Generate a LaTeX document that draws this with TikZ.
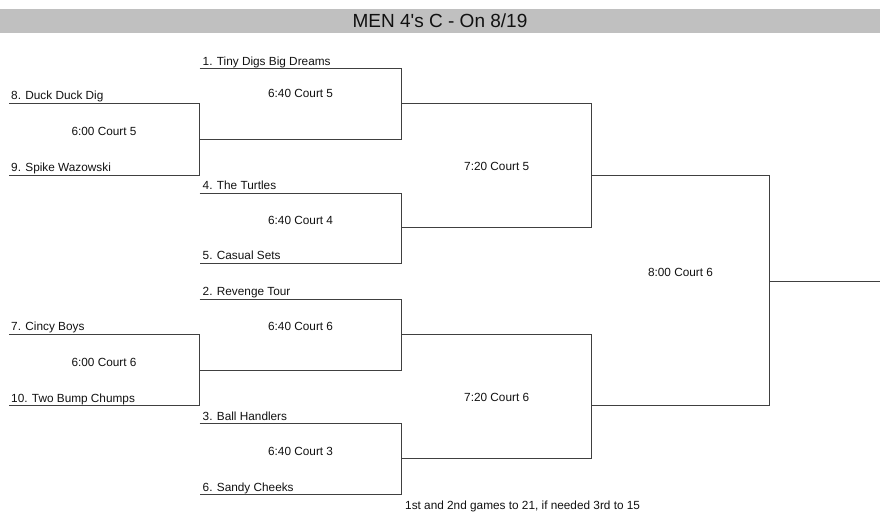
\documentclass[tikz,border=0pt]{standalone}
\usepackage{fontspec}
\setmainfont{Liberation Sans}
\definecolor{barfill}{HTML}{C0C0C0}
\definecolor{linecol}{HTML}{404040}
\definecolor{txtcol}{HTML}{111111}
\begin{document}
\begin{tikzpicture}[x=1bp,y=-1bp,
  bline/.style={draw=linecol,line width=1.2bp},
  team/.style={anchor=base west,inner sep=0pt,text=txtcol,font=\fontsize{11.8bp}{14bp}\selectfont},
  slot/.style={anchor=base,inner sep=0pt,text=txtcol,font=\fontsize{11.8bp}{14bp}\selectfont},
  titletxt/.style={anchor=base,inner sep=0pt,text=txtcol,font=\fontsize{19bp}{22bp}\selectfont}]
\useasboundingbox (0,0) rectangle (880,524);
% title bar
\fill[barfill] (0,9.3) rectangle (880,33.3);
\node[titletxt] (title) at (440,27.3) {MEN 4\textquotesingle s C - On 8/19};

% x positions
\def\xa{9}\def\xb{199.5}\def\xc{401.5}\def\xd{591.5}\def\xe{769.5}\def\xf{880}

% ---- coordinates ----
% round 1, top
\coordinate (duckL) at (\xa,103.5); \coordinate (duckR) at (\xb,103.5);
\coordinate (spikeL) at (\xa,175.5);  \coordinate (spikeR) at (\xb,175.5);
\coordinate (m1L) at (\xb,139.5);  \coordinate (m1R) at (\xc,139.5);
% round 1, bottom
\coordinate (cincyL) at (\xa,334.5); \coordinate (cincyR) at (\xb,334.5);
\coordinate (twoL) at (\xa,405.5);     \coordinate (twoR) at (\xb,405.5);
\coordinate (m2L) at (\xb,370.5);   \coordinate (m2R) at (\xc,370.5);
% round 2
\coordinate (tinyL) at (\xb,68.5);   \coordinate (tinyR) at (\xc,68.5);
\coordinate (q1L) at (\xc,103.5);   \coordinate (q1R) at (\xd,103.5);
\coordinate (turtL) at (\xb,193.5);    \coordinate (turtR) at (\xc,193.5);
\coordinate (casL) at (\xb,263.5);   \coordinate (casR) at (\xc,263.5);
\coordinate (q2L) at (\xc,227.5);   \coordinate (q2R) at (\xd,227.5);
\coordinate (revL) at (\xb,299.5);   \coordinate (revR) at (\xc,299.5);
\coordinate (q3L) at (\xc,334.5);   \coordinate (q3R) at (\xd,334.5);
\coordinate (ballL) at (\xb,423.5);  \coordinate (ballR) at (\xc,423.5);
\coordinate (sandL) at (\xb,494.5);  \coordinate (sandR) at (\xc,494.5);
\coordinate (q4L) at (\xc,458.5);   \coordinate (q4R) at (\xd,458.5);
% round 3
\coordinate (s1L) at (\xd,175.5);     \coordinate (s1R) at (\xe,175.5);
\coordinate (s2L) at (\xd,405.5);     \coordinate (s2R) at (\xe,405.5);
% final
\coordinate (fL) at (\xe,281.5);    \coordinate (fR) at (\xf,281.5);

% ---- lines ----
\draw[bline] (duckL) -- (duckR) -- (spikeR) -- (spikeL);
\draw[bline] (m1L) -- (m1R);
\draw[bline] (cincyL) -- (cincyR) -- (twoR) -- (twoL);
\draw[bline] (m2L) -- (m2R);
\draw[bline] (tinyL) -- (tinyR) -- (m1R);
\draw[bline] (q1L) -- (q1R);
\draw[bline] (turtL) -- (turtR) -- (casR) -- (casL);
\draw[bline] (q2L) -- (q2R);
\draw[bline] (revL) -- (revR) -- (m2R);
\draw[bline] (q3L) -- (q3R);
\draw[bline] (ballL) -- (ballR) -- (sandR) -- (sandL);
\draw[bline] (q4L) -- (q4R);
\draw[bline] (q1R) -- (q2R);
\draw[bline] (s1L) -- (s1R);
\draw[bline] (q3R) -- (q4R);
\draw[bline] (s2L) -- (s2R);
\draw[bline] (s1R) -- (s2R);
\draw[bline] (fL) -- (fR);

% ---- team labels ----
\node[team] (t8) at (11,100) {8. Duck Duck Dig};
\node[team] (t9) at (11,171.7) {9. Spike Wazowski};
\node[team] (t7) at (11,331) {7. Cincy Boys};
\node[team] (t10) at (11,402.7) {10. Two Bump Chumps};
\node[team] (t1) at (202.5,65.4) {1. Tiny Digs Big Dreams};
\node[team] (t4) at (202.5,189.7) {4. The Turtles};
\node[team] (t5) at (202.5,260) {5. Casual Sets};
\node[team] (t2) at (202.5,296) {2. Revenge Tour};
\node[team] (t3) at (202.5,420) {3. Ball Handlers};
\node[team] (t6) at (202.5,491) {6. Sandy Cheeks};

% ---- match slots ----
\node[slot] (g1) at (104,135.2) {6:00 Court 5};
\node[slot] (g2) at (104,366.5) {6:00 Court 6};
\node[slot] (g3) at (300.6,97.4) {6:40 Court 5};
\node[slot] (g4) at (300.6,224.9) {6:40 Court 4};
\node[slot] (g5) at (300.6,330.9) {6:40 Court 6};
\node[slot] (g6) at (300.6,455.2) {6:40 Court 3};
\node[slot] (g7) at (496.7,170.9) {7:20 Court 5};
\node[slot] (g8) at (496.7,401.9) {7:20 Court 6};
\node[slot] (g9) at (680.5,276.9) {8:00 Court 6};

% footer
\node[team] (note) at (405,509.2) {1st and 2nd games to 21, if needed 3rd to 15};
\end{tikzpicture}
\end{document}
